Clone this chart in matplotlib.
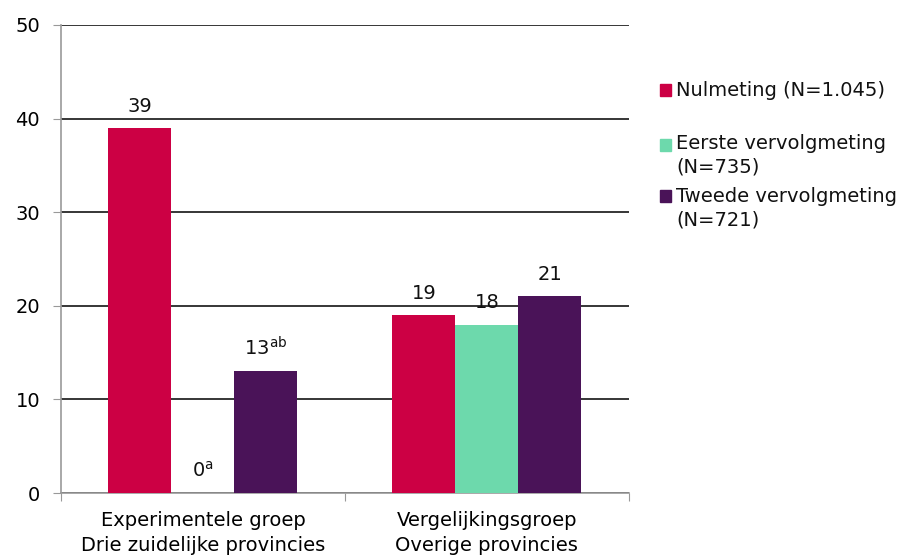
import matplotlib.pyplot as plt
from matplotlib.patches import Rectangle

# ---- data ----
categories = ['Experimentele groep\nDrie zuidelijke provincies',
              'Vergelijkingsgroep\nOverige provincies']
series_names = ['Nulmeting (N=1.045)', 'Eerste vervolgmeting\n(N=735)',
                'Tweede vervolgmeting\n(N=721)']
nulmeting = [39, 19]
eerste = [0, 18]
tweede = [13, 21]
labels_nul = ['39', '19']
labels_eerste = [r'0$^{\mathrm{a}}$', '18']
labels_tweede = [r'13$^{\mathrm{ab}}$', '21']

colors = ['#CC0044', '#6DD9AC', '#4A1358']

plt.rcParams['font.family'] = ['DejaVu Sans']
fig = plt.figure(figsize=(9.21, 5.6), dpi=100)
ax = fig.add_axes([0.0662, 0.1196, 0.6165, 0.8358])

FS = 14
width = 0.222
centers = [0.5, 1.5]
series = [nulmeting, eerste, tweede]
labels = [labels_nul, labels_eerste, labels_tweede]
for i, (vals, labs) in enumerate(zip(series, labels)):
    xs = [c + (i - 1) * width for c in centers]
    ax.bar(xs, vals, width=width, color=colors[i], zorder=3)
    for x, v, t in zip(xs, vals, labs):
        ax.text(x, v + 1.3, t, ha='center', va='bottom', fontsize=FS, color='#111111')

ax.set_xlim(0, 2)
ax.set_ylim(0, 50)
ax.set_yticks(range(0, 51, 10))
ax.yaxis.grid(True, color='black', linewidth=1.1, zorder=0)
ax.set_axisbelow(True)

ax.set_xticks([0, 1, 2])
ax.set_xticklabels([])
ax.set_xticks(centers, minor=True)
ax.set_xticklabels(categories, minor=True, fontsize=FS, linespacing=1.4)
ax.tick_params(axis='x', which='minor', length=0, pad=13)
ax.tick_params(axis='x', which='major', length=6, color='#999999')
ax.tick_params(axis='y', length=6, color='#999999', labelsize=FS, pad=9)

for s in ['top', 'right']:
    ax.spines[s].set_visible(False)
for s in ['left', 'bottom']:
    ax.spines[s].set_color('#999999')
    ax.spines[s].set_linewidth(1.2)

# ---- legend (drawn manually to match layout) ----
W, H = 921, 560
leg_items = [(90, 92), (145, 145), (196, 198)]  # (square y, text top-line y) in px
for (sq_y, txt_y), name, c in zip(leg_items, series_names, colors):
    fig.patches.append(Rectangle((660 / W, 1 - (sq_y + 6) / H), 11 / W, 12 / H,
                                 transform=fig.transFigure, color=c))
    fig.text(676 / W, 1 - (txt_y - 11) / H, name, fontsize=FS, va='top',
             ha='left', linespacing=1.32, color='#111111')

fig.savefig('out.png', dpi=100)
